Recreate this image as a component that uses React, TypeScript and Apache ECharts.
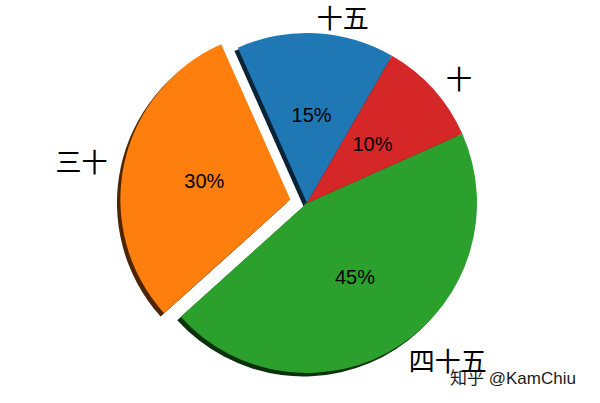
import { useEffect, useRef } from "react";
import * as echarts from "echarts";

const labels = ["十五", "三十", "四十五", "十"];
const values = [15, 30, 45, 10];
const colors = ["#1f77b4", "#ff7f0e", "#2ca02c", "#d62728"];
const shadowColors = ["#0a2436", "#4c2604", "#0d300d", "#400c0c"];
const exploded = [false, true, false, false];

export default function App() {
  const chartRef = useRef<HTMLDivElement>(null);

  useEffect(() => {
    document.body.style.margin = "0";
    if (!chartRef.current) return;
    const chart = echarts.init(chartRef.current, undefined, { renderer: "svg" });

    const cx = 307;
    const cy = 203;
    const r = 170;

    const common = {
      type: "pie" as const,
      radius: r,
      startAngle: 60,
      clockwise: false,
      selectedMode: "multiple" as const,
      selectedOffset: 17,
      avoidLabelOverlap: false,
      silent: true,
      emphasis: { disabled: true },
    };

    const option: echarts.EChartsOption = {
      animation: false,
      series: [
        // shadow layer, shifted left and down
        {
          ...common,
          center: [cx - 3.4, cy + 3.4],
          label: { show: false },
          labelLine: { show: false },
          data: values.map((v, i) => ({
            name: labels[i],
            value: v,
            selected: exploded[i],
            itemStyle: { color: shadowColors[i] },
          })),
        },
        {
          ...common,
          center: [cx, cy],
          label: {
            show: true,
            position: "outside",
            distanceToLabelLine: 0,
            fontSize: 26,
            lineHeight: 26,
            color: "#000",
            fontFamily: "Noto Sans CJK SC",
            formatter: "{b}",
          },
          labelLine: { show: false, length: 17, length2: 0 },
          data: values.map((v, i) => ({
            name: labels[i],
            value: v,
            selected: exploded[i],
            itemStyle: { color: colors[i] },
          })),
        },
        // percent labels at half radius
        {
          ...common,
          center: [cx, cy],
          itemStyle: { color: "rgba(0,0,0,0)" },
          label: {
            show: true,
            position: "inside",
            fontSize: 20,
            color: "#000",
            fontFamily: "Liberation Sans",
            formatter: (p: any) => `${Math.round(p.percent)}%`,
          },
          labelLine: { show: false },
          data: values.map((v, i) => ({
            name: labels[i],
            value: v,
            selected: exploded[i],
          })),
        },
      ],
      graphic: [
        {
          type: "text",
          x: 450,
          y: 378,
          style: {
            text: "知乎 @KamChiu",
            fontSize: 17,
            fontFamily: "Liberation Sans, Noto Sans CJK SC",
            fill: "#1a1a1a",
            verticalAlign: "middle",
          },
        },
      ],
    };

    chart.setOption(option);
    return () => chart.dispose();
  }, []);

  return <div ref={chartRef} style={{ width: 600, height: 403 }} />;
}
